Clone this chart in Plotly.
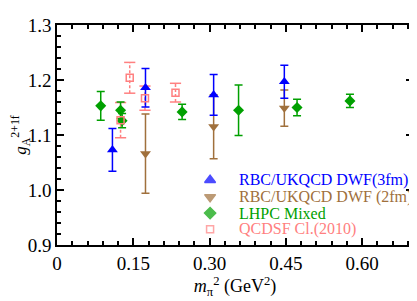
import plotly.graph_objects as go

# RBC/UKQCD DWF (3fm)
rbc3_x = [0.109, 0.174, 0.308, 0.447]
rbc3_y = [1.073, 1.186, 1.173, 1.197]
rbc3_e = [0.039, 0.035, 0.037, 0.030]
# RBC/UKQCD DWF (2fm)
rbc2_x = [0.174, 0.308, 0.447]
rbc2_y = [1.066, 1.115, 1.149]
rbc2_e = [0.072, 0.058, 0.033]
# LHPC Mixed
lhpc_x = [0.086, 0.125, 0.128, 0.246, 0.357, 0.472, 0.576]
lhpc_y = [1.153, 1.145, 1.126, 1.142, 1.145, 1.150, 1.162]
lhpc_e = [0.026, 0.015, 0.013, 0.014, 0.046, 0.015, 0.012]
# QCDSF Cl.(2010)
qcd_x = [0.125, 0.143, 0.173, 0.233]
qcd_y = [1.127, 1.204, 1.167, 1.177]
qcd_e = [0.032, 0.028, 0.022, 0.017]

x_ticks = [0, 0.15, 0.30, 0.45, 0.60]
x_ticktext = ["0", "0.15", "0.30", "0.45", "0.60"]
y_ticks = [0.9, 1.0, 1.1, 1.2, 1.3]
y_ticktext = ["0.9", "1.0", "1.1", "1.2", "1.3"]

legend_names = ["RBC/UKQCD DWF(3fm)", "RBC/UKQCD DWF (2fm)", "LHPC Mixed", "QCDSF Cl.(2010)"]

BLUE = "#0000ff"
BROWN = "#a0703c"
GREEN = "#00a000"
PINK = "#ff8080"
FONT = "Times New Roman, Liberation Serif, DejaVu Serif, serif"

fig = go.Figure()

# dashed stems for QCDSF error bars
stem_x, stem_y = [], []
cap_x, cap_y = [], []
for xx, yy, ee in zip(qcd_x, qcd_y, qcd_e):
    stem_x += [xx, xx, None]
    stem_y += [yy - ee, yy + ee, None]
    cap_x += [xx, xx]
    cap_y += [yy - ee, yy + ee]
fig.add_trace(go.Scatter(x=stem_x, y=stem_y, mode="lines",
                         line=dict(color=PINK, width=1.5, dash="3px,2px"),
                         showlegend=False, hoverinfo="skip"))
fig.add_trace(go.Scatter(x=cap_x, y=cap_y, mode="markers",
                         marker=dict(symbol="line-ew", size=8,
                                     line=dict(color=PINK, width=1.5)),
                         showlegend=False, hoverinfo="skip"))

fig.add_trace(go.Scatter(
    x=lhpc_x, y=lhpc_y, mode="markers",
    error_y=dict(type="data", array=lhpc_e, color=GREEN, thickness=1.5, width=4),
    marker=dict(symbol="diamond", size=8.5, color=GREEN), showlegend=False))
fig.add_trace(go.Scatter(
    x=rbc2_x, y=rbc2_y, mode="markers",
    error_y=dict(type="data", array=rbc2_e, color=BROWN, thickness=1.5, width=4),
    marker=dict(symbol="triangle-down", size=9.5, color=BROWN), showlegend=False))
fig.add_trace(go.Scatter(
    x=rbc3_x, y=rbc3_y, mode="markers",
    error_y=dict(type="data", array=rbc3_e, color=BLUE, thickness=1.5, width=4),
    marker=dict(symbol="triangle-up", size=9.5, color=BLUE), showlegend=False))
fig.add_trace(go.Scatter(
    x=qcd_x, y=qcd_y, mode="markers",
    marker=dict(symbol="square-open", size=7, color=PINK, line=dict(width=1.5)),
    showlegend=False))

# hand-built compact legend (symbols on a hidden overlay axis, text as annotations)
leg_colors = [BLUE, BROWN, GREEN, PINK]
leg_symbols = ["triangle-up", "triangle-down", "diamond", "square-open"]
leg_sizes = [9.5, 9.5, 8.5, 7]
leg_rows = [0.295, 0.218, 0.145, 0.072]
leg_sym_x = 0.43
leg_txt_x = 0.505
fig.add_trace(go.Scatter(
    x=[leg_sym_x] * 4, y=leg_rows, mode="markers", xaxis="x2", yaxis="y2",
    marker=dict(symbol=leg_symbols, size=leg_sizes, color=leg_colors,
                line=dict(width=1.5, color=leg_colors)),
    showlegend=False, hoverinfo="skip"))
for name, col, yy in zip(legend_names, leg_colors, leg_rows):
    fig.add_annotation(x=leg_txt_x, y=yy, xref="paper", yref="paper",
                       text=name, showarrow=False, xanchor="left", yanchor="middle",
                       font=dict(family=FONT, size=16, color=col))

axis_common = dict(showline=True, linecolor="black", linewidth=1.5, mirror="ticks",
                   ticks="inside", ticklen=7, tickwidth=1.5, tickcolor="black",
                   showgrid=False, zeroline=False, automargin=False,
                   tickfont=dict(family=FONT, size=19, color="black"))

fig.update_xaxes(range=[0, 0.7], tickvals=x_ticks, ticktext=x_ticktext,
                 minor=dict(dtick=0.03, ticks="inside", ticklen=4, tickwidth=1.5,
                            tickcolor="black", showgrid=False),
                 title=dict(text="<i>m</i><sub>π</sub><sup>2</sup> (GeV<sup>2</sup>)",
                            font=dict(family=FONT, size=18, color="black"), standoff=0),
                 **axis_common)
fig.update_yaxes(range=[0.9, 1.3], tickvals=y_ticks, ticktext=y_ticktext,
                 minor=dict(dtick=0.02, ticks="inside", ticklen=4, tickwidth=1.5,
                            tickcolor="black", showgrid=False),
                 title=dict(text="<i>g</i><sub>A</sub><sup>2+1f</sup>",
                            font=dict(family=FONT, size=17, color="black"), standoff=8),
                 **axis_common)

# the page body has an 8px default margin; size the figure to compensate
fig.update_layout(
    width=409, height=293,
    margin=dict(l=49, r=4, t=17, b=56),
    paper_bgcolor="white", plot_bgcolor="white",
    font=dict(family=FONT, color="black"),
    showlegend=False,
    xaxis2=dict(overlaying="x", range=[0, 1], visible=False, automargin=False),
    yaxis2=dict(overlaying="y", range=[0, 1], visible=False, automargin=False),
)

fig.write_html("out.html")
